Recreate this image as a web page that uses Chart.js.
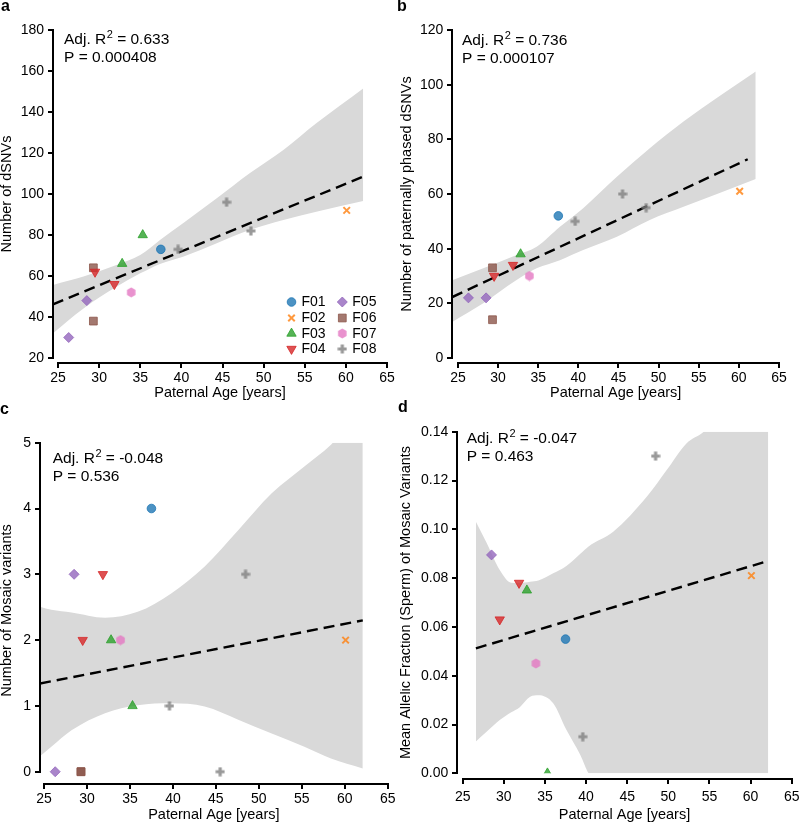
<!DOCTYPE html>
<html>
<head>
<meta charset="utf-8">
<script src="https://cdn.jsdelivr.net/npm/chart.js@4.4.1/dist/chart.umd.min.js"></script>
<style>
  body { margin: 0; background: #fff; }
  #fig { position: relative; width: 800px; height: 824px; overflow: hidden; background: #fff; }
  canvas { position: absolute; }
  .tag { position: absolute; font: bold 16px "Liberation Sans", Arial, sans-serif; line-height: 16px; color: #000; }
  .axis { position: absolute; background: #000; }
</style>
</head>
<body>
<div id="fig">
  <canvas id="panelA" width="400" height="412" style="left:0;top:0"></canvas>
  <canvas id="panelB" width="400" height="412" style="left:400px;top:0"></canvas>
  <canvas id="panelC" width="400" height="424" style="left:0;top:400px"></canvas>
  <canvas id="panelD" width="400" height="424" style="left:400px;top:400px"></canvas>
  <div class="tag" style="left:1px;top:-2px">a</div>
  <div class="tag" style="left:397px;top:-2px">b</div>
  <div class="tag" style="left:0;top:401px">c</div>
  <div class="tag" style="left:398px;top:399px">d</div>
</div>
<script>
// samples grouped by family, same order in every array
const familyNames = ["F01", "F02", "F03", "F04", "F05", "F06", "F07", "F08"];
const familyColors = ["#1f77b4", "#ff7f0e", "#2ca02c", "#d62728", "#9467bd", "#8c564b", "#e377c2", "#7f7f7f"];
const paternalAge = [[37.5], [60.1], [35.3, 32.8], [29.5, 31.85], [28.5, 26.3], [29.3, 29.3], [33.9], [45.5, 39.6, 48.45]];
const dsnvCount = [[73], [92], [80, 66], [62, 56], [48, 30], [64, 38], [52], [96, 73, 82]];
const phasedCount = [[52], [61], [null, 38], [30, 34], [22, 22], [33, 14], [30], [60, 50, 55]];
const mosaicCount = [[4], [2], [1, 2], [2, 3], [3, 0], [0, 0], [2], [0, 1, 3]];
const mosaicAF = [[0.055], [0.081], [0.0, 0.075], [0.063, 0.078], [0.0895, null], [null, null], [0.045], [null, 0.015, 0.13]];

// tick labels
const ageTicks = [25, 30, 35, 40, 45, 50, 55, 60, 65];
const ticksA = [20, 40, 60, 80, 100, 120, 140, 160, 180];
const ticksB = [0, 20, 40, 60, 80, 100, 120];
const ticksC = [0, 1, 2, 3, 4, 5];
const ticksD = [0, 0.02, 0.04, 0.06, 0.08, 0.1, 0.12, 0.14];

// regression fits (dashed) and confidence bands
const fitAgeA = [24.39, 62.1], fitA = [46.2, 108.5];
const fitAgeB = [24.29, 61.1], fitB = [22.3, 72.7];
const fitAgeC = [24.53, 62.1], fitC = [1.34, 2.3];
const fitAgeD = [26.6, 61.8], fitD = [0.0512, 0.0867];

const bandAgeA = [24.3, 28.1, 32.1, 35.0, 37.4, 40.2, 44.3, 48.3, 52.4, 56.4, 62.1];
const bandUpA = [55.5, 59.7, 65.4, 70.2, 77.6, 85.7, 97.9, 110.1, 121.5, 134.5, 151.5];
const bandLoA = [31.8, 44.2, 54.8, 61.3, 65.9, 69.4, 76.0, 82.4, 87.3, 91.4, 96.6];

const bandAgeB = [24.28, 28.15, 32.3, 34.8, 37.7, 40.6, 44.8, 48.9, 53.1, 62.1];
const bandUpB = [28.4, 32.8, 37.7, 40.7, 48.0, 54.8, 66.3, 76.7, 86.5, 104.8];
const bandLoB = [13.2, 20.0, 28.5, 32.8, 35.8, 39.5, 44.4, 50.5, 55.3, 65.5];

const bandAgeC = [24.5, 25.85, 28.2, 32.1, 35.9, 39.8, 43.7, 47.6, 51.5, 55.3, 58.4, 62.1];
const bandUpC = [2.51, 2.46, 2.42, 2.34, 2.43, 2.71, 3.12, 3.67, 4.23, 4.64, 4.97, 5.5];
const bandLoC = [0.23, 0.38, 0.63, 0.89, 1.01, 1.04, 0.99, 0.79, 0.58, 0.38, 0.2, 0.05];

const bandAgeD = [26.6, 27.9, 29.5, 30.9, 31.9, 33.2, 34.2, 36.0, 37.6, 39.3, 40.3, 43.3, 47.4, 49.8, 52.2, 54.3, 62.15];
const bandUpD = [0.1031, 0.0945, 0.0833, 0.0781, 0.078, 0.0785, 0.079, 0.082, 0.085, 0.09, 0.093, 0.099, 0.1134, 0.1243, 0.1352, 0.14, 0.17];
const bandLoD = [0.013, 0.017, 0.0218, 0.025, 0.027, 0.0314, 0.032, 0.0287, 0.0178, 0.0075, 0.0, -0.01, -0.02, -0.03, -0.04, -0.05, -0.06];

const statsA = ["0.633", "0.000408"];
const statsB = ["0.736", "0.000107"];
const statsC = ["-0.048", "0.536"];
const statsD = ["-0.047", "0.463"];

const FONT = "'Liberation Sans', Arial, sans-serif";
Chart.defaults.font.family = FONT;
Chart.defaults.color = "#000";

const rgba = (hex, a) => {
  const n = parseInt(hex.slice(1), 16);
  return `rgba(${n >> 16},${(n >> 8) & 255},${n & 255},${a})`;
};

// hexagon and filled plus markers are not built into Chart.js
function shapeCanvas(size, color, pts) {
  const c = document.createElement("canvas");
  c.width = size;
  c.height = size;
  const g = c.getContext("2d");
  g.fillStyle = color;
  g.beginPath();
  pts.forEach(([x, y], i) => (i ? g.lineTo(x, y) : g.moveTo(x, y)));
  g.closePath();
  g.fill();
  return c;
}
const hexPts = [];
for (let k = 0; k < 6; k++) {
  const a = -Math.PI / 2 + (k * Math.PI) / 3;
  hexPts.push([5.5 + 4.9 * Math.cos(a), 5.5 + 4.9 * Math.sin(a)]);
}
const plusPts = [[3.4, 0.5], [6.6, 0.5], [6.6, 3.4], [9.5, 3.4], [9.5, 6.6], [6.6, 6.6], [6.6, 9.5], [3.4, 9.5], [3.4, 6.6], [0.5, 6.6], [0.5, 3.4], [3.4, 3.4]];
const hexMarker = shapeCanvas(11, rgba(familyColors[6], 0.8), hexPts);
const plusMarker = shapeCanvas(10, rgba(familyColors[7], 0.8), plusPts);

const markerStyles = [
  { pointStyle: "circle", radius: 4.3, rotation: 0, borderWidth: 1 },
  { pointStyle: "crossRot", radius: 4.6, rotation: 0, borderWidth: 2 },
  { pointStyle: "triangle", radius: 5.4, rotation: 0, borderWidth: 1 },
  { pointStyle: "triangle", radius: 5.4, rotation: 180, borderWidth: 1 },
  { pointStyle: "rectRot", radius: 5, rotation: 0, borderWidth: 1 },
  { pointStyle: "rect", radius: 5.5, rotation: 0, borderWidth: 1 },
  { pointStyle: hexMarker, radius: 5, rotation: 0, borderWidth: 0 },
  { pointStyle: plusMarker, radius: 5, rotation: 0, borderWidth: 0 },
];

function familyDatasets(values) {
  return familyNames.map((name, i) => {
    const m = markerStyles[i];
    return {
      label: name,
      data: paternalAge[i].map((age, j) => ({ x: age, y: values[i][j] })),
      pointStyle: m.pointStyle,
      pointRadius: m.radius,
      pointRotation: m.rotation,
      pointBorderWidth: m.borderWidth,
      backgroundColor: rgba(familyColors[i], 0.8),
      borderColor: rgba(familyColors[i], 0.8),
      showLine: false,
      order: 0,
    };
  });
}

function fitDataset(ages, values) {
  return {
    label: "fit",
    data: ages.map((a, i) => ({ x: a, y: values[i] })),
    showLine: true,
    borderColor: "#000",
    borderWidth: 2.4,
    borderDash: [11, 6],
    pointRadius: 0,
    order: 1,
  };
}

function bandDatasets(ages, upper, lower) {
  const base = {
    showLine: true,
    pointRadius: 0,
    borderWidth: 0,
    borderColor: "rgba(0,0,0,0)",
    cubicInterpolationMode: "monotone",
    order: 2,
  };
  return [
    { ...base, label: "ci-up", data: ages.map((a, i) => ({ x: a, y: upper[i] })), fill: "+1", backgroundColor: "#d9d9d9" },
    { ...base, label: "ci-lo", data: ages.map((a, i) => ({ x: a, y: lower[i] })), fill: false },
  ];
}

// fit statistics and the family legend
function decor(cfg) {
  return {
    id: "decor",
    afterDraw(chart) {
      const { ctx } = chart;
      ctx.save();
      ctx.fillStyle = "#000";
      ctx.textBaseline = "alphabetic";
      ctx.textAlign = "left";
      ctx.font = "15.5px " + FONT;
      let cx = cfg.statsX;
      ctx.fillText("Adj. R", cx, cfg.statsY);
      cx += ctx.measureText("Adj. R").width + 0.5;
      ctx.font = "11px " + FONT;
      ctx.fillText("2", cx, cfg.statsY - 6);
      cx += ctx.measureText("2").width;
      ctx.font = "15.5px " + FONT;
      ctx.fillText(" = " + cfg.stats[0], cx, cfg.statsY);
      ctx.fillText("P = " + cfg.stats[1], cfg.statsX, cfg.statsY + 17.7);

      if (cfg.legend) {
        const drawPoint = Chart.helpers.drawPoint;
        ctx.font = "14px " + FONT;
        ctx.textBaseline = "middle";
        familyNames.forEach((name, i) => {
          const col = Math.floor(i / 4), row = i % 4;
          const mx = cfg.legend.x[col], my = cfg.legend.y[row];
          const m = markerStyles[i];
          ctx.fillStyle = rgba(familyColors[i], 0.8);
          ctx.strokeStyle = rgba(familyColors[i], 0.8);
          ctx.lineWidth = m.borderWidth || 1;
          ctx.setLineDash([]);
          drawPoint(ctx, { pointStyle: m.pointStyle, radius: m.radius, rotation: m.rotation, borderWidth: m.borderWidth }, mx, my);
          ctx.fillStyle = "#000";
          ctx.fillText(name, mx + 10, my + 0.5);
        });
      }
      ctx.restore();
    },
  };
}

// offset spines trimmed to the first/last tick, placed from the chart's own scales
function addSpines(chart, cfg) {
  const fig = document.getElementById("fig");
  const canvas = chart.canvas;
  const ox = canvas.offsetLeft, oy = canvas.offsetTop;
  const area = chart.chartArea;
  const xs = chart.scales.x, ys = chart.scales.y;
  const px = (v) => {
    const p = xs.getPixelForValue(v);
    return Number.isFinite(p) ? p : area.left + ((v - xs.min) / (xs.max - xs.min)) * (area.right - area.left);
  };
  const py = (v) => {
    const p = ys.getPixelForValue(v);
    return Number.isFinite(p) ? p : area.bottom - ((v - ys.min) / (ys.max - ys.min)) * (area.bottom - area.top);
  };
  const bar = (x, y, w, h) => {
    const d = document.createElement("div");
    d.className = "axis";
    d.style.left = ox + x + "px";
    d.style.top = oy + y + "px";
    d.style.width = w + "px";
    d.style.height = h + "px";
    fig.appendChild(d);
  };
  const yv = cfg.yTicks;
  const sx = area.left;
  const sy = area.bottom + cfg.spineOffset;
  const yTop = py(yv[yv.length - 1]), yBot = py(yv[0]);
  bar(sx - 1, yTop - 1, 2, yBot - yTop + 2);
  yv.forEach((v) => bar(sx - 5, py(v) - 1, 5, 2));
  const xL = px(ageTicks[0]), xR = px(ageTicks[ageTicks.length - 1]);
  bar(xL - 1, sy - 1, xR - xL + 2, 2);
  ageTicks.forEach((v) => bar(px(v) - 1, sy, 2, 5));
}

function buildPanel(id, cfg) {
  const tickFont = { size: 14, lineHeight: 1 };
  const titleFont = { size: 14.5, lineHeight: 1 };
  const chart = new Chart(document.getElementById(id), {
    type: "scatter",
    data: {
      datasets: [
        ...familyDatasets(cfg.values),
        fitDataset(cfg.fitAge, cfg.fit),
        ...bandDatasets(cfg.bandAge, cfg.bandUp, cfg.bandLo),
      ],
    },
    options: {
      responsive: false,
      animation: false,
      events: [],
      layout: { padding: { left: 0, top: cfg.top, right: cfg.w - cfg.right, bottom: 0 } },
      plugins: { legend: { display: false }, tooltip: { enabled: false } },
      scales: {
        x: {
          type: "linear",
          min: cfg.xMin,
          max: 65,
          // tick marks hidden; tickLength only pushes the labels down
          grid: { display: false, drawTicks: true, tickLength: cfg.xTickPad },
          border: { display: false },
          ticks: { padding: 0, font: tickFont, maxRotation: 0, autoSkip: false },
          afterBuildTicks: (s) => { s.ticks = ageTicks.map((v) => ({ value: v })); },
          title: { display: true, text: "Paternal Age [years]", font: titleFont, padding: { top: 0, bottom: cfg.xTitlePad } },
          afterFit: (s) => { s.height = cfg.h - cfg.bottom; },
        },
        y: {
          type: "linear",
          min: cfg.yMin,
          max: cfg.yMax,
          grid: { display: false, drawTicks: false },
          border: { display: false },
          ticks: {
            padding: 9,
            font: tickFont,
            autoSkip: false,
            callback: cfg.yFormat || ((v) => String(v)),
          },
          afterBuildTicks: (s) => { s.ticks = cfg.yTicks.map((v) => ({ value: v })); },
          title: { display: true, text: cfg.yTitle, font: titleFont, padding: { top: cfg.yTitlePad || 0, bottom: 0 } },
          afterFit: (s) => { s.width = cfg.left; },
        },
      },
    },
    plugins: [decor(cfg)],
  });
  addSpines(chart, cfg);
  return chart;
}

buildPanel("panelA", {
  w: 400, h: 412, left: 53, right: 387, top: 30, bottom: 358,
  xMin: 24.39, yMin: 20, yMax: 180, yTicks: ticksA,
  xTickPad: 13, xTitlePad: 11.5, spineOffset: 5,
  yTitle: "Number of dSNVs",
  values: dsnvCount, fitAge: fitAgeA, fit: fitA,
  bandAge: bandAgeA, bandUp: bandUpA, bandLo: bandLoA,
  stats: statsA, statsX: 64, statsY: 44,
  legend: { x: [291.5, 342.3], y: [302, 318, 333.5, 349] },
});

buildPanel("panelB", {
  w: 400, h: 412, left: 52.3, right: 379, top: 30, bottom: 358,
  xMin: 24.29, yMin: 0, yMax: 120, yTicks: ticksB,
  xTickPad: 13, xTitlePad: 11.5, spineOffset: 5,
  yTitle: "Number of paternally phased dSNVs",
  values: phasedCount, fitAge: fitAgeB, fit: fitB,
  bandAge: bandAgeB, bandUp: bandUpB, bandLo: bandLoB,
  stats: statsB, statsX: 62, statsY: 45,
});

buildPanel("panelC", {
  w: 400, h: 424, left: 40, right: 387.7, top: 42.7, bottom: 378.3,
  xMin: 24.53, yMin: -0.1, yMax: 5, yTicks: ticksC,
  xTickPad: 13.5, xTitlePad: 1.5, spineOffset: 5.7,
  yTitle: "Number of Mosaic variants",
  values: mosaicCount, fitAge: fitAgeC, fit: fitC,
  bandAge: bandAgeC, bandUp: bandUpC, bandLo: bandLoC,
  stats: statsC, statsX: 52.7, statsY: 63.3,
});

buildPanel("panelD", {
  w: 400, h: 424, left: 57.3, right: 391.7, top: 31.7, bottom: 373.3,
  xMin: 24.34, yMin: 0, yMax: 0.14, yTicks: ticksD,
  xTickPad: 16.5, xTitlePad: 1.5, spineOffset: 5.7,
  yTitle: "Mean Allelic Fraction (Sperm) of Mosaic Variants", yTitlePad: -1,
  yFormat: (v) => Number(v).toFixed(2),
  values: mosaicAF, fitAge: fitAgeD, fit: fitD,
  bandAge: bandAgeD, bandUp: bandUpD, bandLo: bandLoD,
  stats: statsD, statsX: 66.7, statsY: 43.3,
});
</script>
</body>
</html>
